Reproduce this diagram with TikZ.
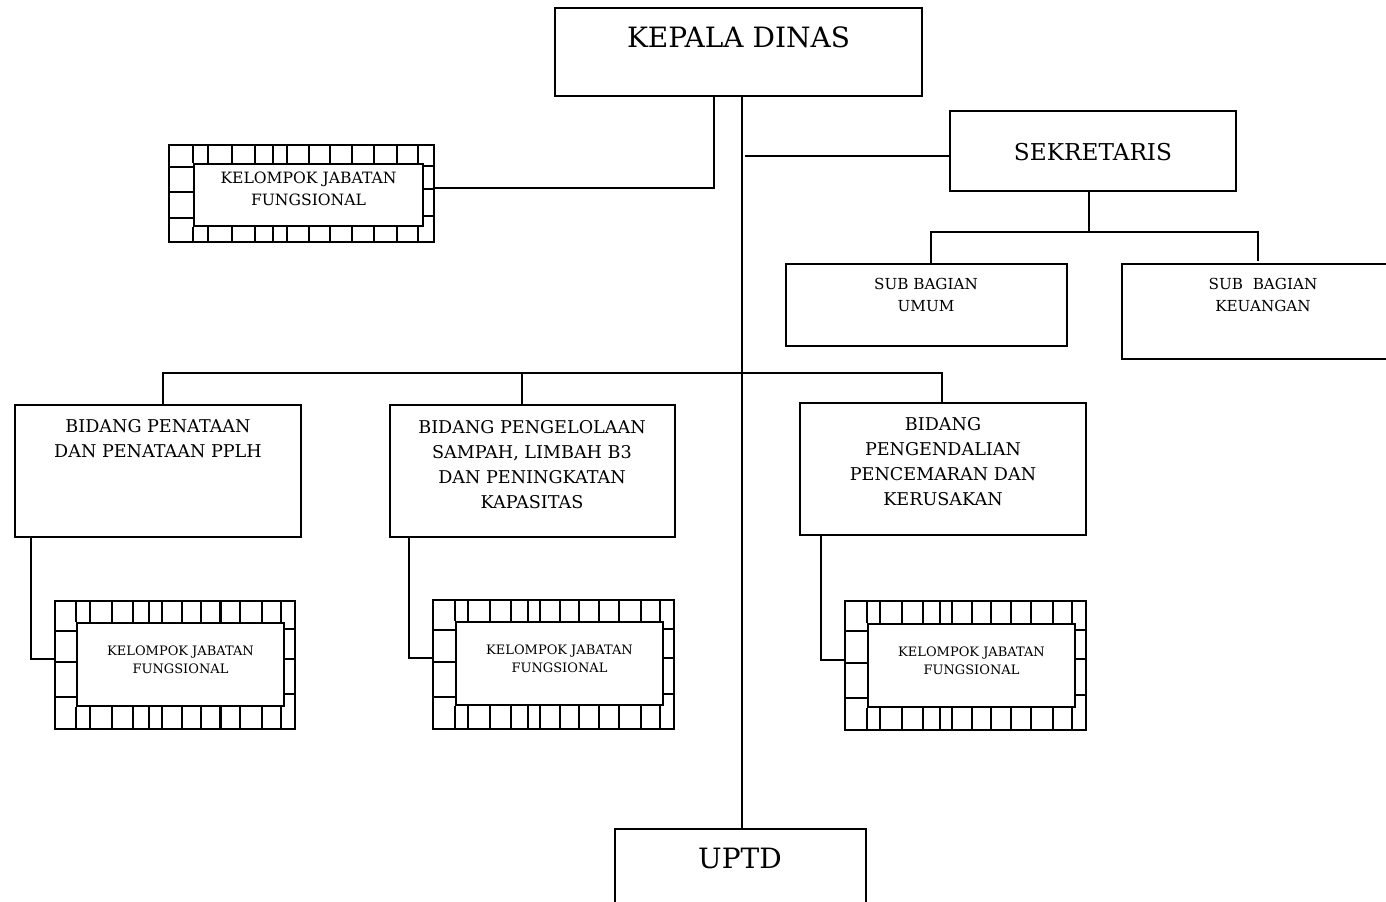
\documentclass[tikz,border=0pt]{standalone}
\usepackage{fontspec}
\setmainfont{DejaVu Serif}
\usetikzlibrary{calc,fit}

\tikzset{
  box/.style={draw=black, line width=0.7pt, inner sep=0pt},
  heavybox/.style={box, line width=1pt},
  frame/.style={draw=black, line width=1pt, inner sep=0pt},
  innerframe/.style={draw=black, line width=1pt, inner sep=0pt, fill=white,
    font=\fontsize{6.5}{9}\selectfont, align=center},
  link/.style={draw=black, line width=0.75pt},
  tick/.style={draw=black, line width=1pt},
  bigtxt/.style={font=\fontsize{14}{16}\selectfont, inner sep=0pt},
  sektxt/.style={font=\fontsize{11.6}{14}\selectfont, inner sep=0pt},
  midtxt/.style={font=\fontsize{8.8}{12.5}\selectfont, align=center, inner sep=0pt},
  smalltxt/.style={font=\fontsize{7.6}{11}\selectfont, align=center, inner sep=0pt},
}

% brick-like border between an outer frame node (#1) and an inner node (#2)
\newcommand\brickborder[2]{%
  \draw[tick] (#2.west |- #1.north) -- (#2.north west);
  \draw[tick] (#2.west |- #1.south) -- (#2.south west);
  \foreach \q in {0.15,0.24,0.325,0.393,0.445,0.527,0.606,0.688,0.77,0.858,0.938}{
    \coordinate (bt) at ($(#1.north west)!\q!(#1.north east)$);
    \draw[tick] (bt) -- (bt |- #2.north);
    \coordinate (bb) at ($(#1.south west)!\q!(#1.south east)$);
    \draw[tick] (bb) -- (bb |- #2.south);
  }
  \foreach \q in {0.235,0.48,0.745}{
    \coordinate (bl) at ($(#1.north west)!\q!(#1.south west)$);
    \draw[tick] (bl) -- (bl -| #2.west);
  }
  \foreach \q in {0.226,0.453,0.725}{
    \coordinate (br) at ($(#1.north east)!\q!(#1.south east)$);
    \draw[tick] (br) -- (br -| #2.east);
  }
}

\begin{document}
\begin{tikzpicture}[x=0.5pt, y=-0.5pt]
  \useasboundingbox (0,0) rectangle (1386,901);
  \clip (0,0) rectangle (1386,901);

  % main boxes
  \node[box, fit={(555,8) (922,96)}] (kd) {};
  \node[bigtxt] (kdt) at (738.5,37) {KEPALA DINAS};

  \node[box, fit={(950,111) (1236,191)}] (sek) {};
  \node[sektxt] (sekt) at (1093,152) {SEKRETARIS};

  \node[heavybox, fit={(786,264) (1067,346)}] (sbu) {};
  \node[smalltxt] (sbut) at (926,295) {SUB BAGIAN\\UMUM};

  \node[heavybox, fit={(1122,264) (1400,359)}] (sbk) {};
  \node[smalltxt] (sbkt) at (1263,295) {SUB\ \ BAGIAN\\KEUANGAN};

  \node[box, fit={(15,405) (301,537)}] (bda) {};
  \node[midtxt] (bdat) at (158,439) {BIDANG PENATAAN\\DAN PENATAAN PPLH};

  \node[box, fit={(390,405) (675,537)}] (bdb) {};
  \node[midtxt] (bdbt) at (532,465) {BIDANG PENGELOLAAN\\SAMPAH, LIMBAH B3\\DAN PENINGKATAN\\KAPASITAS};

  \node[box, fit={(800,403) (1086,535)}] (bdc) {};
  \node[midtxt] (bdct) at (943,462) {BIDANG\\PENGENDALIAN\\PENCEMARAN DAN\\KERUSAKAN};

  \node[box, fit={(615,829) (866,920)}] (uptd) {};
  \node[bigtxt] (uptdt) at (740,858) {UPTD};

  % functional groups
  \node[frame, fit={(169,145) (434,242)}] (kjfo) {};
  \node[innerframe, font=\fontsize{7.8}{11}\selectfont, fit={(194,164) (423,226)}] (kjf) {KELOMPOK JABATAN\\FUNGSIONAL};
  \brickborder{kjfo}{kjf}

  \node[frame, fit={(55,601) (295,729)}] (kjfao) {};
  \node[innerframe, fit={(77,623) (284,706)}] (kjfa) {KELOMPOK JABATAN\\FUNGSIONAL};
  \brickborder{kjfao}{kjfa}

  \node[frame, fit={(433,600) (674,729)}] (kjfbo) {};
  \node[innerframe, fit={(456,622) (663,705)}] (kjfb) {KELOMPOK JABATAN\\FUNGSIONAL};
  \brickborder{kjfbo}{kjfb}

  \node[frame, fit={(845,601) (1086,730)}] (kjfco) {};
  \node[innerframe, fit={(868,624) (1075,707)}] (kjfc) {KELOMPOK JABATAN\\FUNGSIONAL};
  \brickborder{kjfco}{kjfc}

  % routing points
  \coordinate (spine) at (742,0);
  \coordinate (kjfjoin) at (714,188);
  \coordinate (sekjoin) at (745,156);
  \coordinate (sekdrop) at (1089,232);
  \coordinate (sbujoin) at (931,232);
  \coordinate (sbkjoin) at (1258,232);
  \coordinate (sbkend) at (1258,261);
  \coordinate (bdajoin) at (163,373);
  \coordinate (bdbjoin) at (522,373);
  \coordinate (bdcjoin) at (942,373);
  \coordinate (kjfaturn) at (31,659);
  \coordinate (kjfbturn) at (409,658);
  \coordinate (kjfcturn) at (821,660);

  % connectors
  \draw[link] (kd.south -| spine) -- (uptd.north -| spine);
  \draw[link] (kd.south -| kjfjoin) -- (kjfjoin) -- (kjfo.east |- kjfjoin);
  \draw[link] (sekjoin) -- (sek.west |- sekjoin);
  \draw[link] (sek.south -| sekdrop) -- (sekdrop);
  \draw[link] (sbu.north -| sbujoin) -- (sbujoin) -- (sbkjoin) -- (sbkend);
  \draw[link] (bda.north -| bdajoin) -- (bdajoin) -- (bdcjoin) -- (bdc.north -| bdcjoin);
  \draw[link] (bdbjoin) -- (bdb.north -| bdbjoin);
  \draw[link] (bda.south -| kjfaturn) -- (kjfaturn) -- (kjfao.west |- kjfaturn);
  \draw[link] (bdb.south -| kjfbturn) -- (kjfbturn) -- (kjfbo.west |- kjfbturn);
  \draw[link] (bdc.south -| kjfcturn) -- (kjfcturn) -- (kjfco.west |- kjfcturn);
\end{tikzpicture}
\end{document}
